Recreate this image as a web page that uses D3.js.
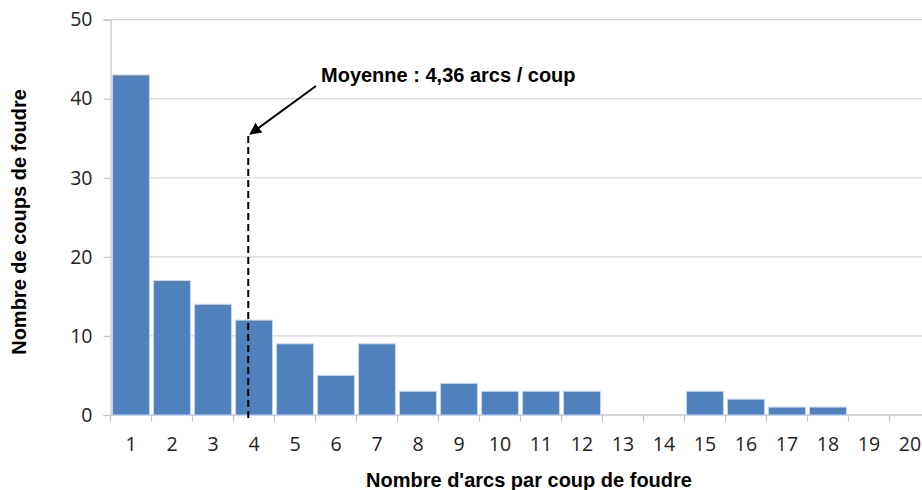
<!DOCTYPE html>
<html>
<head>
<meta charset="utf-8">
<script src="https://cdn.jsdelivr.net/npm/d3@7"></script>
<style>
  html, body { margin: 0; padding: 0; background: #ffffff; }
  svg { display: block; }
</style>
</head>
<body>
<svg id="chart" width="922" height="490"></svg>
<script>
// Nombre d'arcs par coup de foudre (1..20) et nombre de coups observés
const categories = ["1","2","3","4","5","6","7","8","9","10","11","12","13","14","15","16","17","18","19","20"];
const counts = [43, 17, 14, 12, 9, 5, 9, 3, 4, 3, 3, 3, 0, 0, 3, 2, 1, 1, 0, 0];
const yTicks = [0, 10, 20, 30, 40, 50];
const meanArcs = 4.36;
const meanLabel = "Moyenne : 4,36 arcs / coup";
const xTitle = "Nombre d'arcs par coup de foudre";
const yTitle = "Nombre de coups de foudre";

const svg = d3.select("#chart");
const plotLeft = 110.5, plotTop = 19.6, plotBottom = 415, bandW = 41;
const plotRight = plotLeft + bandW * categories.length;

const x = d3.scaleBand().domain(categories).range([plotLeft, plotRight]).paddingInner(0.1).paddingOuter(0.05);
// continuous position: value v sits at v-1 band widths from the axis
const xv = d3.scaleLinear().domain([1, 1 + categories.length]).range([plotLeft, plotRight]);
const y = d3.scaleLinear().domain([0, 50]).range([plotBottom, plotTop]);

const tickFont = "'Open Sans', 'Noto Sans', sans-serif";
const boldFont = "'Liberation Sans', Arial, sans-serif";

// horizontal gridlines
svg.append("g")
  .selectAll("line")
  .data(yTicks)
  .join("line")
  .attr("x1", plotLeft).attr("x2", 922)
  .attr("y1", d => y(d)).attr("y2", d => y(d))
  .attr("stroke", "#d4d4d4").attr("stroke-width", 1.2);

// y axis
const yAxis = svg.append("g")
  .attr("transform", `translate(${plotLeft},0)`)
  .call(d3.axisLeft(y).tickValues(yTicks).tickSize(7).tickPadding(11));
yAxis.select(".domain").attr("stroke", "#c4c4c4").attr("stroke-width", 1.2);
yAxis.selectAll(".tick line").attr("stroke", "#c4c4c4").attr("stroke-width", 1.2);
yAxis.selectAll("text")
  .attr("font-family", tickFont).attr("font-size", 19.5).attr("fill", "#222");

// x axis: ticks on band boundaries
const xAxisG = svg.append("g").attr("transform", `translate(0,${plotBottom})`);
xAxisG.append("line")
  .attr("x1", plotLeft).attr("x2", 922).attr("y1", 0).attr("y2", 0)
  .attr("stroke", "#c4c4c4").attr("stroke-width", 1.2);
xAxisG.selectAll("line.tk")
  .data(d3.range(categories.length + 1))
  .join("line")
  .attr("class", "tk")
  .attr("x1", d => xv(d + 1)).attr("x2", d => xv(d + 1))
  .attr("y1", 0).attr("y2", 7)
  .attr("stroke", "#c4c4c4").attr("stroke-width", 1.2);
xAxisG.selectAll("text")
  .data(categories)
  .join("text")
  .attr("x", d => x(d) + x.bandwidth() / 2)
  .attr("y", 36)
  .attr("text-anchor", "middle")
  .attr("font-family", tickFont).attr("font-size", 19.5).attr("fill", "#222")
  .text(d => d);

// bars
svg.append("g")
  .selectAll("rect")
  .data(categories.map((c, i) => ({ c, v: counts[i] })).filter(d => d.v > 0))
  .join("rect")
  .attr("x", d => x(d.c))
  .attr("width", x.bandwidth())
  .attr("y", d => y(d.v))
  .attr("height", d => y(0) - y(d.v))
  .attr("fill", "#4f81bd")
  .attr("stroke", "#c6d6ea").attr("stroke-width", 1);

// mean marker
const mx = xv(meanArcs);
svg.append("line")
  .attr("x1", mx).attr("x2", mx)
  .attr("y1", 136).attr("y2", 422)
  .attr("stroke", "#000").attr("stroke-width", 2)
  .attr("stroke-dasharray", "7,4");

svg.append("defs").append("marker")
  .attr("id", "arrowhead")
  .attr("viewBox", "0 0 10 10")
  .attr("refX", 9).attr("refY", 5)
  .attr("markerWidth", 6).attr("markerHeight", 6)
  .attr("markerUnits", "strokeWidth")
  .attr("orient", "auto")
  .append("path").attr("d", "M0,0 L10,5 L0,10 z").attr("fill", "#000");

svg.append("line")
  .attr("x1", 316).attr("y1", 86)
  .attr("x2", mx + 2).attr("y2", 134)
  .attr("stroke", "#000").attr("stroke-width", 2)
  .attr("marker-end", "url(#arrowhead)");

svg.append("text")
  .attr("x", 321).attr("y", 82)
  .attr("font-family", boldFont).attr("font-weight", "bold").attr("font-size", 20)
  .attr("fill", "#000")
  .text(meanLabel);

// axis titles
svg.append("text")
  .attr("x", 529).attr("y", 487)
  .attr("text-anchor", "middle")
  .attr("font-family", boldFont).attr("font-weight", "bold").attr("font-size", 20)
  .attr("fill", "#000")
  .text(xTitle);

svg.append("text")
  .attr("transform", "translate(26,222) rotate(-90)")
  .attr("text-anchor", "middle")
  .attr("font-family", boldFont).attr("font-weight", "bold").attr("font-size", 20)
  .attr("fill", "#000")
  .text(yTitle);
</script>
</body>
</html>
